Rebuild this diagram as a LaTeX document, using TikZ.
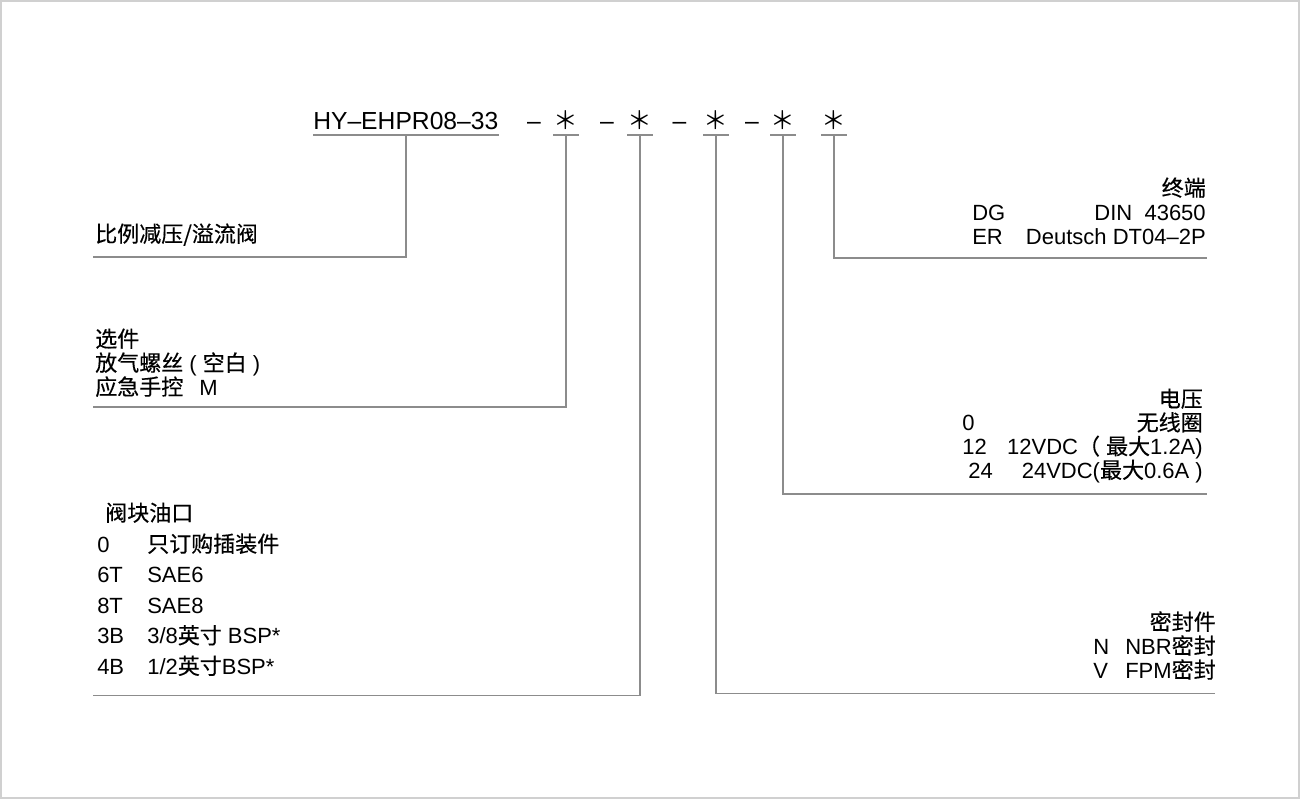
\documentclass[tikz,border=0pt]{standalone}
\usepackage{fontspec}
\setmainfont{Liberation Sans}
\newfontfamily\cjk[FakeBold=0.4]{Noto Sans CJK SC}
\newfontfamily\cjkthin{Noto Sans CJK SC}
\usetikzlibrary{positioning}
\newcommand{\zh}[1]{{\cjk #1}}
\definecolor{linegray}{RGB}{140,140,140}
\definecolor{framegray}{RGB}{208,208,208}

\begin{document}
\begin{tikzpicture}[x=0.75pt,y=-0.75pt,
  code/.style={font=\fontsize{18.5pt}{22pt}\selectfont, inner sep=0pt},
  pick/.style={code, minimum width=16.5pt, minimum height=21.75pt},
  txt/.style={font=\fontsize{16.5pt}{20pt}\selectfont, inner sep=0pt},
  link/.style={draw=linegray, line width=1.1pt}
  ]
  \useasboundingbox (0,0) rectangle (1300,799);
  \draw[framegray, line width=1.5pt] (1,1) rectangle (1299,798);

  % model code
  \node[code, anchor=base west, text depth=3.75pt] (hy) at (313,129.5) {HY–EHPR08–33};
  \node[code, anchor=base] (d1) at (534,129.5) {–};
  \node[code, anchor=base] (d2) at (607,129.5) {–};
  \node[code, anchor=base] (d3) at (679.5,129.5) {–};
  \node[code, anchor=base] (d4) at (752,129.5) {–};
  \node[pick] (s1) at (566,120) {\cjkthin ＊};
  \node[pick] (s2) at (640,120) {\cjkthin ＊};
  \node[pick] (s3) at (716,120) {\cjkthin ＊};
  \node[pick] (s4) at (783,120) {\cjkthin ＊};
  \node[pick] (s5) at (834,120) {\cjkthin ＊};

  \draw[link] (hy.south west) -- (hy.south east);
  \foreach \i in {1,...,5}
    \draw[link] (s\i.south west) -- (s\i.south east);

  % leaders
  \coordinate (e0) at (93,257);
  \draw[link] (hy.south) |- (e0);
  \foreach \i/\x/\y in {1/93/407, 2/93/695.5, 3/1215/693.5, 4/1207/494, 5/1207/258} {
    \coordinate (e\i) at (\x,\y);
    \draw[link] (s\i.south) |- (e\i);
  }

  % left side
  \node[txt, anchor=base west] (valve) at (95,242) {\zh{比例减压/溢流阀}};

  \node[txt, anchor=base west] (opt) at (95,347) {\zh{选件}};
  \node[txt, below=18pt of opt.base west, anchor=base west] (vent) {\zh{放气螺丝} ( \zh{空白} )};
  \node[txt, below=18pt of vent.base west, anchor=base west] (manual) {\zh{应急手控}\hspace{12pt}M};

  \node[txt, anchor=base west] (port) at (105,521) {\zh{阀块油口}};
  \node[txt, anchor=base west] (k0) at (97,552) {0};
  \node[txt, below=22.9pt of k0.base west, anchor=base west] (k6) {6T};
  \node[txt, below=22.9pt of k6.base west, anchor=base west] (k8) {8T};
  \node[txt, below=22.9pt of k8.base west, anchor=base west] (k3) {3B};
  \node[txt, below=22.9pt of k3.base west, anchor=base west] (k4) {4B};
  \node[txt, anchor=base west] (v0) at (147,0 |- k0.base) {\zh{只订购插装件}};
  \node[txt, anchor=base west] (v6) at (147,0 |- k6.base) {SAE6};
  \node[txt, anchor=base west] (v8) at (147,0 |- k8.base) {SAE8};
  \node[txt, anchor=base west] (v3) at (147,0 |- k3.base) {3/8\zh{英寸} BSP*};
  \node[txt, anchor=base west] (v4) at (147,0 |- k4.base) {1/2\zh{英寸}BSP*};

  % right side
  \node[txt, anchor=base east] (term) at (1206,196) {\zh{终端}};
  \node[txt, below=18pt of term.base east, anchor=base east] (din) {DIN\ \ 43650};
  \node[txt, below=18pt of din.base east, anchor=base east] (dt) {Deutsch DT04–2P};
  \node[txt, anchor=base west] (dg) at (972,0 |- din.base) {DG};
  \node[txt, anchor=base west] (er) at (972,0 |- dt.base) {ER};

  \node[txt, anchor=base east] (volt) at (1203,407) {\zh{电压}};
  \node[txt, below=17.8pt of volt.base east, anchor=base east] (nocoil) {\zh{无线圈}};
  \node[txt, below=17.8pt of nocoil.base east, anchor=base east] (dc12) {12VDC\zh{（} \zh{最大}1.2A)};
  \node[txt, below=17.8pt of dc12.base east, anchor=base east] (dc24) {24VDC(\zh{最大}0.6A )};
  \node[txt, anchor=base west] (u0) at (962,0 |- nocoil.base) {0};
  \node[txt, anchor=base west] (u12) at (962,0 |- dc12.base) {12};
  \node[txt, anchor=base west] (u24) at (968,0 |- dc24.base) {24};

  \node[txt, anchor=base east] (seal) at (1216,630) {\zh{密封件}};
  \node[txt, below=18pt of seal.base east, anchor=base east] (nbr) {NBR\zh{密封}};
  \node[txt, below=18pt of nbr.base east, anchor=base east] (fpm) {FPM\zh{密封}};
  \node[txt, anchor=base west] (n) at (1093,0 |- nbr.base) {N};
  \node[txt, anchor=base west] (v) at (1093,0 |- fpm.base) {V};
\end{tikzpicture}
\end{document}
